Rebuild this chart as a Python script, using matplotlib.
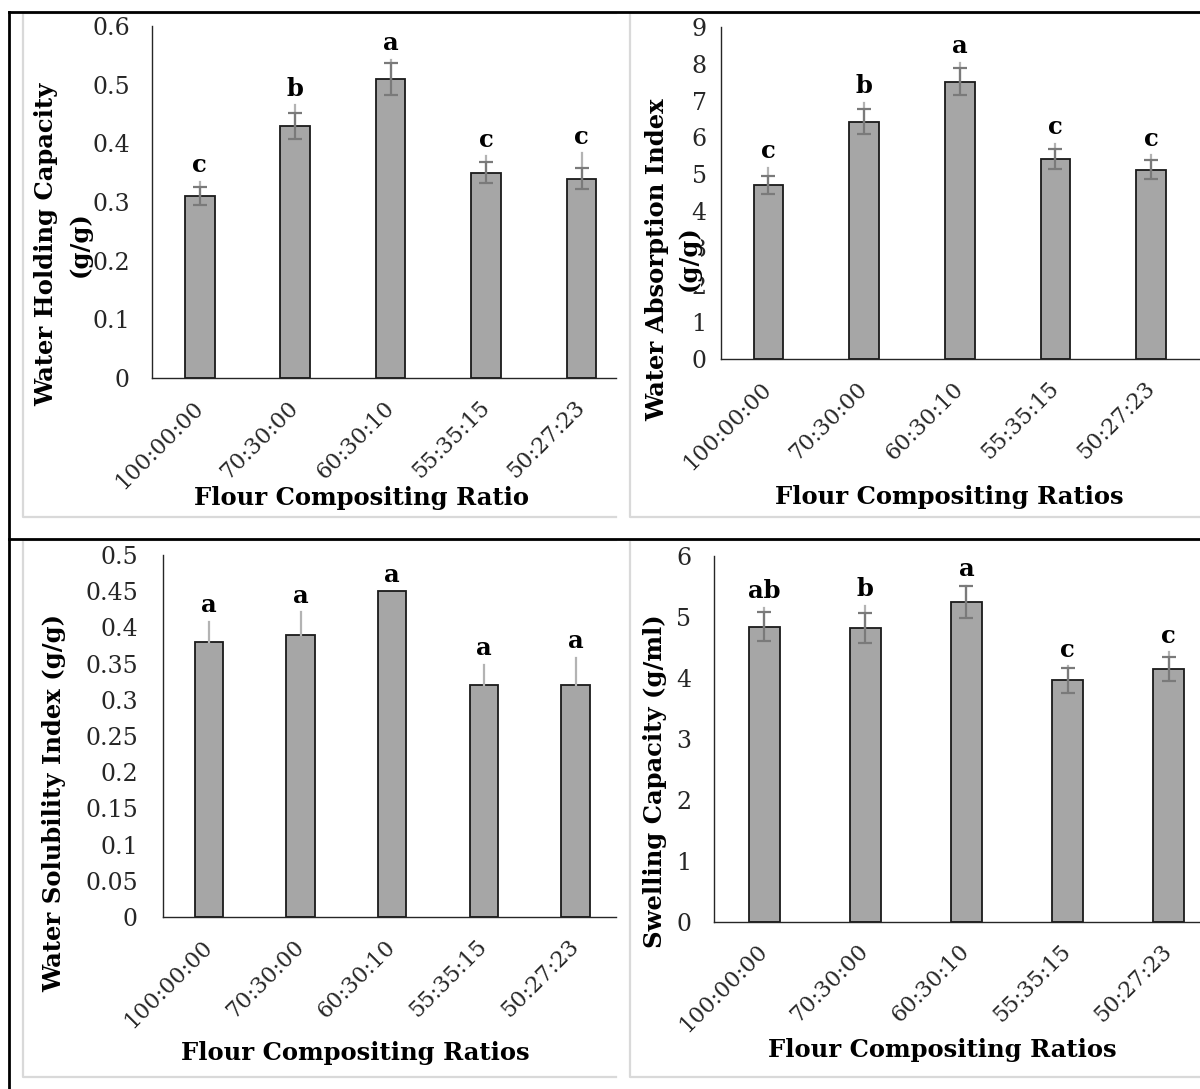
import numpy as np
import matplotlib
matplotlib.use('Agg')
import matplotlib.pyplot as plt
from matplotlib.lines import Line2D

# ---- data ----
ratios = ['100:00:00', '70:30:00', '60:30:10', '55:35:15', '50:27:23']

whc = [0.31, 0.43, 0.51, 0.35, 0.34]
whc_sd = [0.015, 0.022, 0.027, 0.018, 0.018]
whc_up = [0.024, 0.035, 0.032, 0.028, 0.043]
whc_let = ['c', 'b', 'a', 'c', 'c']

wai = [4.72, 6.43, 7.51, 5.42, 5.13]
wai_sd = [0.24, 0.33, 0.37, 0.27, 0.26]
wai_up = [0.45, 0.50, 0.51, 0.40, 0.39]
wai_let = ['c', 'b', 'a', 'c', 'c']

wsi = [0.38, 0.39, 0.45, 0.32, 0.32]
wsi_up = [0.028, 0.031, 0.0, 0.028, 0.038]
wsi_let = ['a', 'a', 'a', 'a', 'a']

sc = [4.84, 4.82, 5.25, 3.96, 4.15]
sc_sd = [0.24, 0.25, 0.26, 0.20, 0.20]
sc_up = [0.31, 0.36, 0.26, 0.23, 0.27]
sc_let = ['ab', 'b', 'a', 'c', 'c']

W, H = 1200, 1089
fig = plt.figure(figsize=(W / 100, H / 100), dpi=100)
SERIF = 'DejaVu Serif'


def fx(px):
    return px / W


def fy(py):
    return 1 - py / H


def panel(box, xlim_r, ylim, yticks, yfmt, vals, sd, up, lets, ypad):
    # box = (left, top, right, bottom) in pixels
    l, t, r, b = box
    ax = fig.add_axes([fx(l), fy(b), fx(r) - fx(l), fy(t) - fy(b)])
    x = np.arange(len(vals))
    ax.bar(x, vals, width=0.31, color='#a6a6a6', edgecolor='#1a1a1a',
           linewidth=1.3, zorder=2)
    up_top = np.array(vals) + np.array(up)
    for xi, v, u in zip(x, vals, up):
        if u > 0:
            ax.plot([xi, xi], [v, v + u], color='#b3b3b3', lw=1.6, zorder=3)
    if sd is not None:
        ax.errorbar(x, vals, yerr=sd, fmt='none', ecolor='#7a7a7a',
                    elinewidth=1.6, capsize=5, capthick=1.6, zorder=4)
    for xi, yt, s in zip(x, up_top, lets):
        ax.annotate(s, (xi, yt), xytext=(0, 12), textcoords='offset points',
                    ha='center', va='center', fontsize=17.5, fontweight='bold',
                    family=SERIF, color='black')
    ax.set_xlim(-0.5, xlim_r)
    ax.set_ylim(*ylim)
    ax.set_yticks(yticks)
    ax.set_yticklabels([yfmt(v) for v in yticks])
    ax.set_xticks(x)
    ax.set_xticklabels(ratios, rotation=45, ha='right', va='center',
                       rotation_mode='anchor')
    ax.tick_params(axis='both', length=0, labelcolor='#262626')
    ax.tick_params(axis='y', pad=ypad, labelsize=17)
    ax.tick_params(axis='x', pad=19, labelsize=16)
    for lab in ax.get_xticklabels() + ax.get_yticklabels():
        lab.set_family(SERIF)
    for s in ['top', 'right']:
        ax.spines[s].set_visible(False)
    for s in ['left', 'bottom']:
        ax.spines[s].set_color('#262626')
        ax.spines[s].set_linewidth(1.0)
    ax.set_facecolor('none')
    return ax


def fmt_g(v):
    return ('%g' % round(v, 2))


panel((152, 26, 616, 378), 4.36, (0, 0.6), np.arange(0, 0.61, 0.1), fmt_g,
      whc, whc_sd, whc_up, whc_let, 16)
panel((720.5, 26.7, 1200, 359), 4.51, (0, 9), np.arange(0, 10, 1), fmt_g,
      wai, wai_sd, wai_up, wai_let, 10)
panel((163, 555, 616, 917), 4.44, (0, 0.5), np.arange(0, 0.501, 0.05), fmt_g,
      wsi, None, wsi_up, wsi_let, 18)
panel((713.7, 556, 1200, 921.7), 4.31, (0, 6), np.arange(0, 7, 1), fmt_g,
      sc, sc_sd, sc_up, sc_let, 16)

# axis titles
bold = dict(family=SERIF, fontweight='bold', fontsize=17.5, color='black')


def ytitle(x, y, s, bg=False):
    kw = dict(bold)
    if bg:
        kw['bbox'] = dict(facecolor='white', edgecolor='none', pad=0)
    fig.text(fx(x), fy(y), s, rotation=90, ha='center', va='center', **kw)


ytitle(46, 244, 'Water Holding Capacity')
ytitle(80, 244, '(g/g)')
ytitle(657, 260, 'Water Absorption Index')
ytitle(689, 258, '(g/g)', bg=True)
ytitle(54, 803, 'Water Solubility Index (g/g)')
ytitle(655, 781, 'Swelling Capacity (g/ml)')

fig.text(fx(361), fy(498), 'Flour Compositing Ratio', ha='center', va='center', **bold)
fig.text(fx(949), fy(497), 'Flour Compositing Ratios', ha='center', va='center', **bold)
fig.text(fx(355), fy(1053), 'Flour Compositing Ratios', ha='center', va='center', **bold)
fig.text(fx(942), fy(1050), 'Flour Compositing Ratios', ha='center', va='center', **bold)

# light grey chart-area borders (right-hand side cut off like the source)
grey = dict(color='#d9d9d9', lw=1.6)
for (l, t, r, b) in [(23, 13, 616, 517), (630, 13, 1200, 517),
                     (23, 540, 616, 1077), (630, 540, 1200, 1077)]:
    fig.add_artist(Line2D([fx(r), fx(l), fx(l), fx(r)],
                          [fy(t), fy(t), fy(b), fy(b)], **grey))

# black table frame
blk = dict(color='black', lw=2.0)
fig.add_artist(Line2D([fx(9), fx(1200)], [fy(12), fy(12)], **blk))
fig.add_artist(Line2D([fx(9), fx(9)], [fy(12), fy(1089)], **blk))
fig.add_artist(Line2D([fx(9), fx(1200)], [fy(539), fy(539)], **blk))

fig.savefig('out.png', dpi=100, facecolor='white')
